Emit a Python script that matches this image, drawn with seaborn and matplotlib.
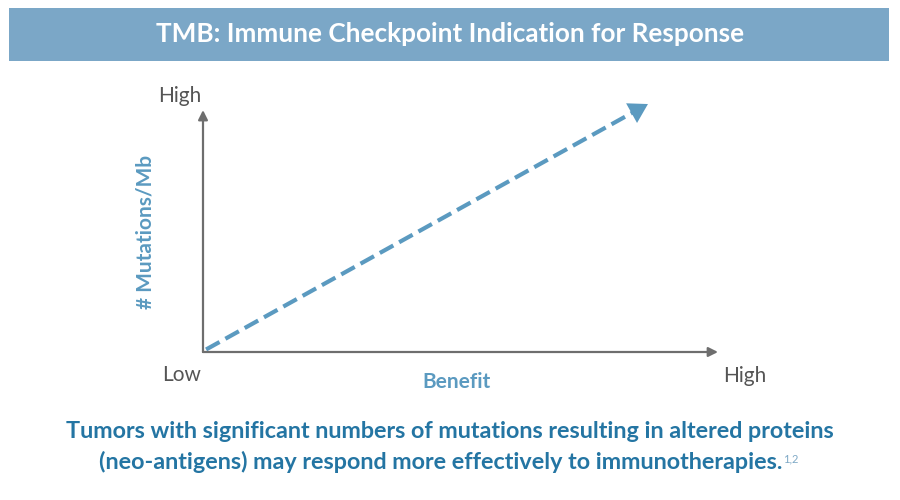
import matplotlib
matplotlib.use("Agg")
import matplotlib.pyplot as plt
import seaborn as sns
import pandas as pd

# schematic trend: benefit vs mutational burden (0-10 scale)
trend_benefit = [0.06, 8.64]
trend_mutations = [0.1, 9.84]
axis_max_x = 10.0
axis_max_y = 9.6

title = "TMB: Immune Checkpoint Indication for Response"
x_label = "Benefit"
y_label = "# Mutations/Mb"
x_ends = ["Low", "High"]
y_ends = ["High"]
footnote = ["Tumors with significant numbers of mutations resulting in altered proteins",
            "(neo-antigens) may respond more effectively to immunotherapies."]
footnote_ref = "1,2"

banner_col = "#7BA7C7"
line_col = "#5B9AC0"
axis_col = "#6E6E6E"
text_blue = "#2475A3"
label_blue = "#5B9AC0"

sns.set_style("white")
plt.rcParams["font.family"] = ["Lato", "DejaVu Sans"]

fig = plt.figure(figsize=(9, 5), dpi=100)
fig.patch.set_facecolor("white")

# title banner
fig.patches.append(plt.Rectangle((9 / 900, 1 - 61 / 500), 880 / 900, 53 / 500,
                                 transform=fig.transFigure, facecolor=banner_col,
                                 edgecolor="none"))
fig.text(0.5, 1 - 34 / 500, title, ha="center", va="center", color="white",
         fontsize=18.8, fontweight="bold")

ax = fig.add_axes([203 / 900, 1 - 352 / 500, 515 / 900, 252 / 500])
ax.set_xlim(0, axis_max_x)
ax.set_ylim(0, 10)
ax.axis("off")

# axes arrows
ax.annotate("", xy=(axis_max_x, 0), xytext=(0, 0),
            arrowprops=dict(arrowstyle="-|>", color=axis_col, lw=1.6, mutation_scale=14,
                            shrinkA=0, shrinkB=0))
ax.annotate("", xy=(0, axis_max_y), xytext=(0, 0),
            arrowprops=dict(arrowstyle="-|>", color=axis_col, lw=1.6, mutation_scale=14,
                            shrinkA=0, shrinkB=0))

df = pd.DataFrame({"benefit": trend_benefit, "mutations": trend_mutations})
sns.lineplot(data=df, x="benefit", y="mutations", ax=ax, color=line_col,
             linestyle="--", lw=3)
x0, x1 = trend_benefit[-2], trend_benefit[-1]
y0, y1 = trend_mutations[-2], trend_mutations[-1]
ax.annotate("", xy=(x1, y1), xytext=(x1 - 0.06 * (x1 - x0), y1 - 0.06 * (y1 - y0)),
            arrowprops=dict(arrowstyle="-|>,head_length=0.5,head_width=0.3",
                            color=line_col, lw=0, mutation_scale=27,
                            shrinkA=0, shrinkB=0))

# end labels
fig.text(180 / 900, 1 - 96 / 500, y_ends[0], ha="center", va="center",
         color="#555555", fontsize=15)
fig.text(182 / 900, 1 - 375 / 500, x_ends[0], ha="center", va="center",
         color="#555555", fontsize=15)
fig.text(745 / 900, 1 - 376 / 500, x_ends[1], ha="center", va="center",
         color="#555555", fontsize=15)

fig.text(457 / 900, 1 - 382 / 500, x_label, ha="center", va="center",
         color=label_blue, fontsize=15, fontweight="bold")
fig.text(145 / 900, 1 - 232 / 500, y_label, ha="center", va="center", rotation=90,
         color=label_blue, fontsize=15, fontweight="bold")

# footnote
fig.text(0.5, 1 - 432 / 500, footnote[0], ha="center", va="center",
         color=text_blue, fontsize=16.8, fontweight="bold")
t2 = fig.text(0.5 - 9 / 900, 1 - 462 / 500, footnote[1], ha="center", va="center",
              color=text_blue, fontsize=16.8, fontweight="bold")
fig.canvas.draw()
bb = t2.get_window_extent()
fig.text(bb.x1 / fig.bbox.width, (bb.y1 - 2) / fig.bbox.height, footnote_ref,
         ha="left", va="top", color="#7FA9C6", fontsize=8)

fig.savefig("out.png", dpi=100, facecolor="white")
